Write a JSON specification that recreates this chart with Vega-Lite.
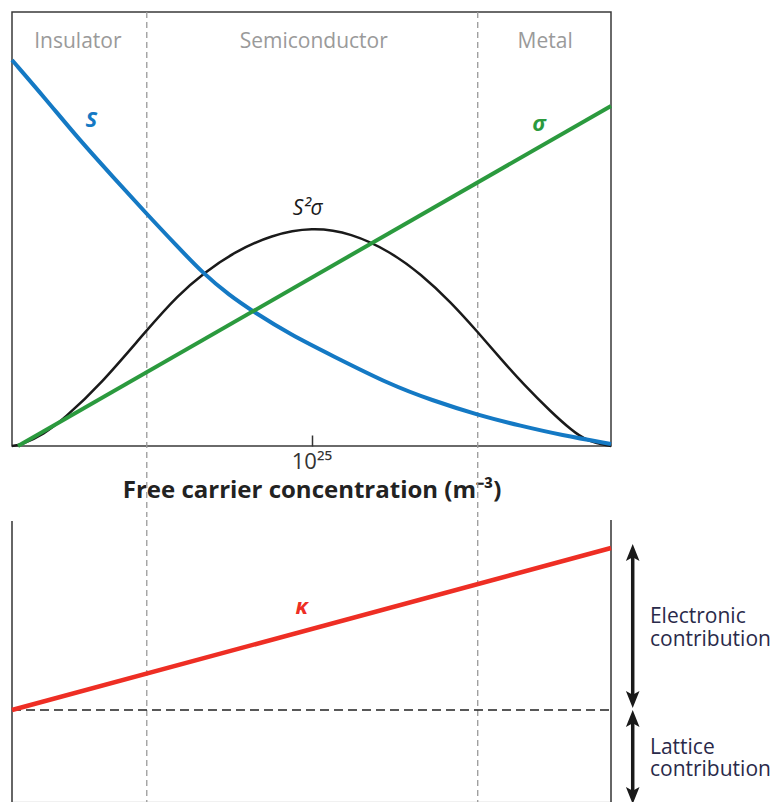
{
  "$schema": "https://vega.github.io/schema/vega-lite/v6.json",
  "padding": {"left": 3, "top": 10, "right": 0, "bottom": 0},
  "spacing": 0,
  "config": {"font": "Open Sans", "view": {"stroke": null}},
  "resolve": {"scale": {"x": "independent", "y": "independent", "color": "independent"}},
  "datasets": {
    "curves": [
      {"series": "S2sigma", "x": 21.0, "y": 0},
      {"series": "S2sigma", "x": 21.12, "y": 1},
      {"series": "S2sigma", "x": 21.43, "y": 12},
      {"series": "S2sigma", "x": 21.69, "y": 27},
      {"series": "S2sigma", "x": 22.19, "y": 62},
      {"series": "S2sigma", "x": 22.8, "y": 116},
      {"series": "S2sigma", "x": 23.22, "y": 151},
      {"series": "S2sigma", "x": 23.56, "y": 173},
      {"series": "S2sigma", "x": 23.97, "y": 194},
      {"series": "S2sigma", "x": 24.46, "y": 211},
      {"series": "S2sigma", "x": 25.01, "y": 219},
      {"series": "S2sigma", "x": 25.53, "y": 213},
      {"series": "S2sigma", "x": 26.06, "y": 194},
      {"series": "S2sigma", "x": 26.46, "y": 172},
      {"series": "S2sigma", "x": 26.86, "y": 144},
      {"series": "S2sigma", "x": 27.22, "y": 114},
      {"series": "S2sigma", "x": 27.53, "y": 87},
      {"series": "S2sigma", "x": 27.84, "y": 61},
      {"series": "S2sigma", "x": 28.2, "y": 34},
      {"series": "S2sigma", "x": 28.47, "y": 16},
      {"series": "S2sigma", "x": 28.67, "y": 5},
      {"series": "S2sigma", "x": 29.0, "y": 0},
      {"series": "S", "x": 21.0, "y": 386},
      {"series": "S", "x": 21.45, "y": 347},
      {"series": "S", "x": 21.89, "y": 307},
      {"series": "S", "x": 22.35, "y": 269},
      {"series": "S", "x": 22.8, "y": 232},
      {"series": "S", "x": 23.19, "y": 201},
      {"series": "S", "x": 23.56, "y": 172},
      {"series": "S", "x": 23.9, "y": 151},
      {"series": "S", "x": 24.23, "y": 134},
      {"series": "S", "x": 24.73, "y": 111},
      {"series": "S", "x": 25.26, "y": 91},
      {"series": "S", "x": 26.06, "y": 61},
      {"series": "S", "x": 26.6, "y": 46},
      {"series": "S", "x": 27.22, "y": 31},
      {"series": "S", "x": 27.8, "y": 20},
      {"series": "S", "x": 28.33, "y": 11},
      {"series": "S", "x": 29.0, "y": 2},
      {"series": "sigma", "x": 21.08, "y": 0},
      {"series": "sigma", "x": 29.0, "y": 340}
    ]
  },
  "vconcat": [
    {
      "width": 599,
      "height": 434,
      "view": {"stroke": "#3a3a3a", "strokeWidth": 1.5},
      "encoding": {
        "x": {
          "field": "x", "type": "quantitative",
          "scale": {"domain": [21, 29], "nice": false, "zero": false},
          "axis": {
            "values": [25], "labelExpr": "'10²⁵'",
            "title": "Free carrier concentration (m⁻³)",
            "domain": false, "grid": false,
            "tickSize": -11, "tickColor": "#333333", "tickWidth": 1.5,
            "labelFontSize": 22, "labelColor": "#333333", "labelPadding": 16,
            "titleFontSize": 24, "titleFontWeight": "bold", "titleColor": "#222222", "titlePadding": 6
          }
        },
        "y": {
          "field": "y", "type": "quantitative",
          "scale": {"domain": [0, 434], "nice": false, "zero": false},
          "axis": null
        }
      },
      "layer": [
        {
          "data": {"values": [{"x": 22.8, "y": 434, "y2": -71}, {"x": 27.22, "y": 434, "y2": -71}]},
          "mark": {"type": "rule", "color": "#9a9a9a", "strokeWidth": 1.3, "strokeDash": [6, 4], "clip": false},
          "encoding": {"y2": {"field": "y2"}}
        },
        {
          "data": {"name": "curves"},
          "transform": [{"filter": "datum.series === 'S2sigma'"}],
          "mark": {"type": "line", "interpolate": "basis", "strokeWidth": 2.5},
          "encoding": {
            "color": {"field": "series", "type": "nominal", "scale": {"domain": ["S", "sigma", "S2sigma"], "range": ["#1479c4", "#2b9a3e", "#1a1a1a"]}, "legend": null}
          }
        },
        {
          "data": {"name": "curves"},
          "transform": [{"filter": "datum.series === 'S'"}],
          "mark": {"type": "line", "interpolate": "basis", "strokeWidth": 4},
          "encoding": {
            "color": {"field": "series", "type": "nominal", "legend": null}
          }
        },
        {
          "data": {"name": "curves"},
          "transform": [{"filter": "datum.series === 'sigma'"}],
          "mark": {"type": "line", "strokeWidth": 4},
          "encoding": {
            "color": {"field": "series", "type": "nominal", "legend": null}
          }
        },
        {
          "data": {"values": [
            {"label": "Insulator", "x": 21.88, "y": 404},
            {"label": "Semiconductor", "x": 25.03, "y": 404},
            {"label": "Metal", "x": 28.12, "y": 404}
          ]},
          "mark": {"type": "text", "color": "#9a9a9a", "fontSize": 21, "baseline": "middle"},
          "encoding": {"text": {"field": "label"}}
        },
        {
          "data": {"values": [
            {"label": "S", "series": "S", "x": 22.06, "y": 326},
            {"label": "σ", "series": "sigma", "x": 28.04, "y": 322}
          ]},
          "mark": {"type": "text", "fontSize": 22, "fontWeight": "bold", "fontStyle": "italic", "baseline": "middle"},
          "encoding": {
            "text": {"field": "label"},
            "color": {"field": "series", "type": "nominal", "legend": null}
          }
        },
        {
          "data": {"values": [{"label": "S²σ", "series": "S2sigma", "x": 24.95, "y": 237}]},
          "mark": {"type": "text", "fontSize": 21, "fontStyle": "italic", "baseline": "middle"},
          "encoding": {
            "text": {"field": "label"},
            "color": {"field": "series", "type": "nominal", "legend": null}
          }
        }
      ]
    },
    {
      "width": 599,
      "height": 282,
      "encoding": {
        "x": {
          "field": "x", "type": "quantitative",
          "scale": {"domain": [21, 29], "nice": false, "zero": false},
          "axis": {"labels": false, "ticks": false, "title": null, "domain": true, "domainColor": "#c8c8c8", "domainWidth": 1.5, "grid": false}
        },
        "y": {
          "field": "y", "type": "quantitative",
          "scale": {"domain": [0, 282], "nice": false, "zero": false},
          "axis": null
        }
      },
      "layer": [
        {
          "data": {"values": [{"x": 22.8, "y": 282, "y2": 0}, {"x": 27.22, "y": 282, "y2": 0}]},
          "mark": {"type": "rule", "color": "#9a9a9a", "strokeWidth": 1.3, "strokeDash": [6, 4], "clip": false},
          "encoding": {"y2": {"field": "y2"}}
        },
        {
          "data": {"values": [{"x": 21, "y": 281, "y2": 0}, {"x": 29, "y": 282, "y2": 0}]},
          "mark": {"type": "rule", "color": "#333333", "strokeWidth": 1.5},
          "encoding": {"y2": {"field": "y2"}}
        },
        {
          "data": {"values": [{"x": 21, "x2": 29, "y": 92}]},
          "mark": {"type": "rule", "color": "#222222", "strokeWidth": 1.5, "strokeDash": [9, 5]},
          "encoding": {"x2": {"field": "x2"}}
        },
        {
          "data": {"values": [{"series": "kappa", "x": 21, "y": 92}, {"series": "kappa", "x": 29, "y": 254}]},
          "mark": {"type": "line", "strokeWidth": 4.5, "clip": false},
          "encoding": {"color": {"field": "series", "type": "nominal", "scale": {"domain": ["kappa"], "range": ["#ee2e24"]}, "legend": null}}
        },
        {
          "data": {"values": [{"label": "κ", "series": "kappa", "x": 24.87, "y": 195}]},
          "mark": {"type": "text", "fontSize": 22, "fontWeight": "bold", "fontStyle": "italic", "baseline": "middle"},
          "encoding": {"text": {"field": "label"}, "color": {"field": "series", "type": "nominal", "legend": null}}
        },
        {
          "data": {"values": [{"x": 29.29, "y": 249.5, "y2": 102.5}, {"x": 29.29, "y": 83.5, "y2": 6.5}]},
          "mark": {"type": "rule", "color": "#1a1a1a", "strokeWidth": 3.5, "clip": false},
          "encoding": {"y2": {"field": "y2"}}
        },
        {
          "data": {"values": [
            {"x": 29.29, "y": 249.5, "dir": "up"},
            {"x": 29.29, "y": 102.5, "dir": "down"},
            {"x": 29.29, "y": 83.5, "dir": "up"},
            {"x": 29.29, "y": 6.5, "dir": "down"}
          ]},
          "mark": {"type": "point", "filled": true, "opacity": 1, "color": "#1a1a1a", "size": 289, "strokeWidth": 0, "clip": false},
          "encoding": {
            "shape": {"field": "dir", "type": "nominal", "scale": {"domain": ["up", "down"], "range": ["M0,-1L0.8,1L0,0.55L-0.8,1Z", "M0,1L0.8,-1L0,-0.55L-0.8,-1Z"]}, "legend": null}
          }
        },
        {
          "data": {"values": [
            {"label": "Electronic", "x": 29.52, "y": 179},
            {"label": "contribution", "x": 29.52, "y": 156},
            {"label": "Lattice", "x": 29.52, "y": 48},
            {"label": "contribution", "x": 29.52, "y": 26}
          ]},
          "mark": {"type": "text", "color": "#2a2a4a", "fontSize": 21, "align": "left", "baseline": "alphabetic", "clip": false},
          "encoding": {"text": {"field": "label"}}
        }
      ]
    }
  ]
}
